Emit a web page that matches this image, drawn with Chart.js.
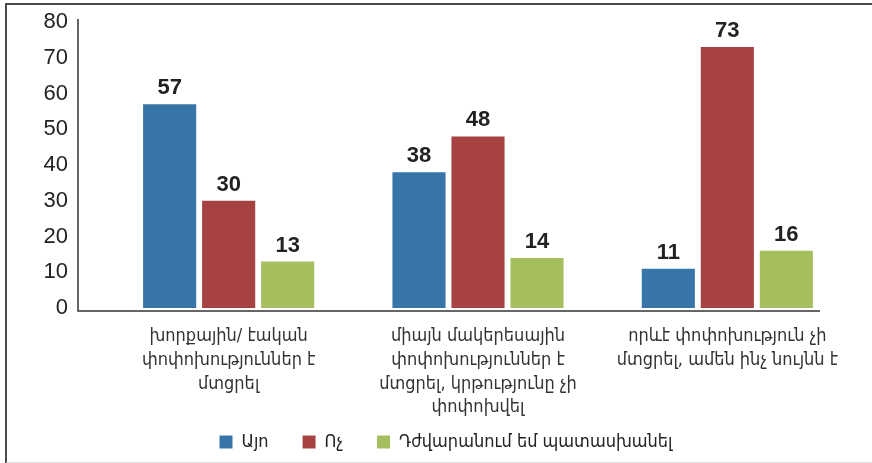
<!DOCTYPE html>
<html>
<head>
<meta charset="utf-8">
<script src="https://cdn.jsdelivr.net/npm/chart.js@4"></script>
<style>
  html, body { margin: 0; padding: 0; background: #fff; }
  #wrap { position: relative; width: 872px; height: 463px; }
  #frame {
    position: absolute; left: 5px; top: 3px; width: 865px; height: 457px;
    border-left: 2px solid #4a4a4a; border-top: 2px solid #4a4a4a; border-bottom: 2px solid #e0e0e0;
  }
  canvas { position: absolute; left: 0; top: 0; }
</style>
</head>
<body>
<div id="wrap">
  <div id="frame"></div>
  <canvas id="chart" width="872" height="463"></canvas>
</div>
<script>
// Տվյալներ
const categories = [
  ['խորքային/ էական', 'փոփոխություններ է', 'մտցրել'],
  ['միայն մակերեսային', 'փոփոխություններ է', 'մտցրել, կրթությունը չի', 'փոփոխվել'],
  ['որևէ փոփոխություն չի', 'մտցրել, ամեն ինչ նույնն է']
];
const seriesNames = ['Այո', 'Ոչ', 'Դժվարանում եմ պատասխանել'];
const yesValues = [57, 38, 11];
const noValues = [30, 48, 73];
const unsureValues = [13, 14, 16];
const yTicks = [0, 10, 20, 30, 40, 50, 60, 70, 80];

const colors = ['#3774a8', '#a64241', '#a6bf5e'];
const armFont = "'DejaVu Sans Condensed', 'DejaVu Sans', sans-serif";
const numFont = "'Liberation Sans', Arial, sans-serif";

// արժեքները սյուների վրա + առանցքների գծերը
const barLabels = {
  id: 'barLabels',
  afterDatasetsDraw(chart) {
    const ctx = chart.ctx;
    ctx.save();
    ctx.fillStyle = '#222';
    ctx.font = 'bold 22px ' + numFont;
    ctx.textAlign = 'center';
    ctx.textBaseline = 'bottom';
    chart.data.datasets.forEach((ds, i) => {
      chart.getDatasetMeta(i).data.forEach((bar, j) => {
        ctx.fillText(ds.data[j], bar.x, bar.y - 5);
      });
    });
    // axes
    const a = chart.chartArea;
    const axisX = a.left - 26;
    const axisY = a.bottom + 3;
    ctx.strokeStyle = '#333';
    ctx.lineWidth = 1.5;
    ctx.beginPath();
    ctx.moveTo(axisX, a.top - 3);
    ctx.lineTo(axisX, axisY);
    ctx.lineTo(a.right - 32, axisY);
    ctx.stroke();
    ctx.restore();
  }
};

const ctx = document.getElementById('chart').getContext('2d');
const myChart = new Chart(ctx, {
  type: 'bar',
  data: {
    labels: categories,
    datasets: [
      { label: seriesNames[0], data: yesValues, backgroundColor: colors[0] },
      { label: seriesNames[1], data: noValues, backgroundColor: colors[1] },
      { label: seriesNames[2], data: unsureValues, backgroundColor: colors[2] }
    ]
  },
  options: {
    responsive: false,
    animation: false,
    categoryPercentage: 0.71,
    barPercentage: 0.9,
    layout: { padding: { top: 22, right: 20, bottom: 2, left: 40 } },
    plugins: {
      tooltip: { enabled: false },
      legend: {
        position: 'bottom',
        labels: {
          boxWidth: 13,
          boxHeight: 13,
          padding: 34,
          color: '#222',
          font: { family: armFont, size: 18 }
        }
      }
    },
    scales: {
      x: {
        grid: { display: false, drawTicks: false },
        border: { display: false },
        ticks: {
          color: '#333',
          padding: 16,
          maxRotation: 0,
          autoSkip: false,
          font: { family: armFont, size: 18, lineHeight: 1.33 }
        },
        afterFit(scale) {
          scale.height = 91;
          // չկտրել 4-րդ տողը
          scale._computeLabelArea = () => null;
        }
      },
      y: {
        min: 0,
        max: 80,
        afterBuildTicks(scale) { scale.ticks = yTicks.map(v => ({ value: v })); },
        grid: { display: false, drawTicks: true, tickLength: 36 },
        border: { display: false },
        ticks: {
          color: '#222',
          padding: 0,
          font: { family: numFont, size: 22 }
        },
        afterFit(scale) { scale.width = 64; }
      }
    }
  },
  plugins: [barLabels]
});
</script>
</body>
</html>
